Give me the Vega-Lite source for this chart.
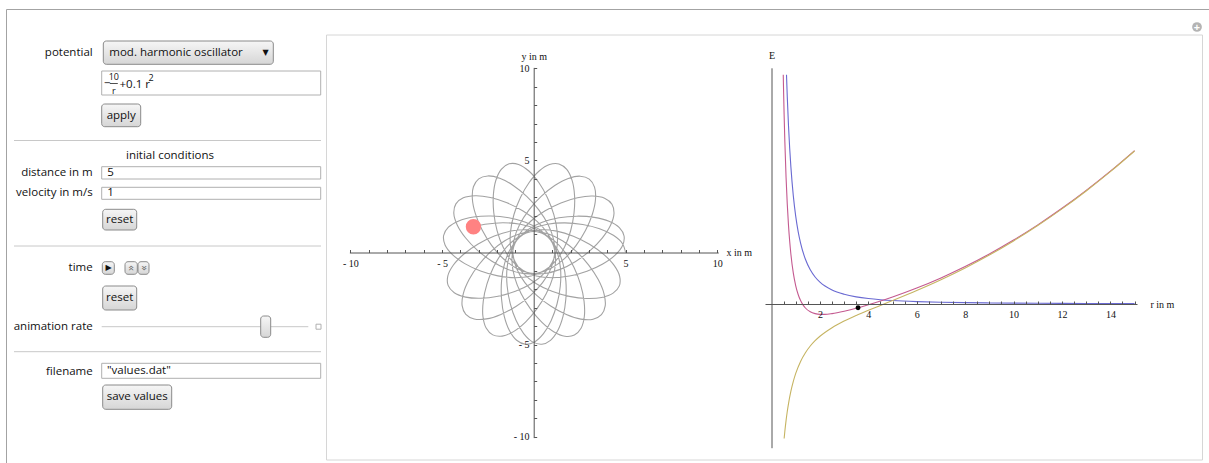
{
  "$schema": "https://vega.github.io/schema/vega-lite/v6.json",
  "width": 1209,
  "height": 463,
  "padding": 0,
  "autosize": {"type": "none"},
  "background": "white",
  "config": {"view": {"stroke": null}, "font": "Open Sans"},
  "resolve": {"scale": {"x": "independent", "y": "independent"}, "axis": {"x": "independent", "y": "independent"}},
  "datasets": {
    "frame": [
      {"x1": 6.5, "y1": 9.5, "x2": 1209, "y2": 9.5},
      {"x1": 6.5, "y1": 9.5, "x2": 6.5, "y2": 463}
    ],
    "panel": [{"x1": 326.5, "x2": 1202.5, "y1": 35, "y2": 460}],
    "separators": [
      {"x1": 14, "x2": 321, "y1": 140.5, "y2": 140.5},
      {"x1": 14, "x2": 321, "y1": 246, "y2": 246},
      {"x1": 14, "x2": 321, "y1": 351.7, "y2": 351.7},
      {"x1": 101.7, "x2": 308.3, "y1": 326.7, "y2": 326.7}
    ],
    "fracbar": [{"x1": 109.8, "x2": 117.8, "y1": 83.5, "y2": 83.5}],
    "inputs": [
      {"x1": 101.7, "x2": 320.7, "y1": 71, "y2": 95},
      {"x1": 101.7, "x2": 320.7, "y1": 166.7, "y2": 179},
      {"x1": 101.7, "x2": 320.7, "y1": 187.3, "y2": 199.3},
      {"x1": 101.7, "x2": 320.7, "y1": 363.3, "y2": 378.3},
      {"x1": 316, "x2": 321, "y1": 324.2, "y2": 329.2}
    ],
    "buttons": [
      {"x1": 103.3, "x2": 273.3, "y1": 41, "y2": 64.3},
      {"x1": 101.7, "x2": 140.7, "y1": 104, "y2": 126.7},
      {"x1": 102.7, "x2": 136.7, "y1": 209.3, "y2": 230},
      {"x1": 102.7, "x2": 136.7, "y1": 286, "y2": 310},
      {"x1": 102.7, "x2": 171.7, "y1": 385, "y2": 409.3},
      {"x1": 102.3, "x2": 114.3, "y1": 261.7, "y2": 274.3},
      {"x1": 125, "x2": 137.3, "y1": 261.7, "y2": 274.3},
      {"x1": 138, "x2": 149, "y1": 261.7, "y2": 274.3},
      {"x1": 260.7, "x2": 270.7, "y1": 316, "y2": 337.3}
    ],
    "labelsRight": [
      {"x": 92.7, "y": 53.3, "text": "potential"},
      {"x": 92.7, "y": 172.7, "text": "distance in m"},
      {"x": 92.7, "y": 192.7, "text": "velocity in m/s"},
      {"x": 92.7, "y": 267.7, "text": "time"},
      {"x": 92.7, "y": 326.7, "text": "animation rate"},
      {"x": 92.7, "y": 371.7, "text": "filename"}
    ],
    "labelsLeft": [
      {"x": 109.3, "y": 53, "text": "mod. harmonic oscillator"},
      {"x": 107.3, "y": 173, "text": "5"},
      {"x": 107.3, "y": 193.3, "text": "1"},
      {"x": 107, "y": 371, "text": "\"values.dat\""},
      {"x": 104, "y": 83.5, "text": "−"},
      {"x": 119.5, "y": 84.5, "text": "+0.1 r"}
    ],
    "labelsCenter": [
      {"x": 170, "y": 156, "text": "initial conditions"},
      {"x": 121.2, "y": 115.5, "text": "apply"},
      {"x": 119.7, "y": 219.7, "text": "reset"},
      {"x": 119.7, "y": 298, "text": "reset"},
      {"x": 137.2, "y": 397, "text": "save values"}
    ],
    "formulaSmall": [
      {"x": 113.8, "y": 77, "text": "10"},
      {"x": 113.8, "y": 90.5, "text": "r"},
      {"x": 151, "y": 78, "text": "2"}
    ],
    "glyphs": [
      {"x": 265.7, "y": 52.5, "text": "▼"},
      {"x": 108.6, "y": 268, "text": "▶"}
    ],
    "chevUp": [{"x": 131.2, "y": 268, "text": "«"}],
    "chevDown": [{"x": 143.5, "y": 268, "text": "»"}],
    "orbit": [
      {"t":0,"x":5,"y":0},{"t":1,"x":4.828,"y":0.49},{"t":2,"x":4.335,"y":0.933},{"t":3,"x":3.584,"y":1.287},{"t":4,"x":2.667,"y":1.519},{"t":5,"x":1.687,"y":1.606},{"t":6,"x":0.744,"y":1.532},{"t":7,"x":-0.09,"y":1.281},{"t":8,"x":-0.766,"y":0.841},{"t":9,"x":-1.268,"y":0.208},{"t":10,"x":-1.594,"y":-0.599},{"t":11,"x":-1.756,"y":-1.531},{"t":12,"x":-1.759,"y":-2.515},{"t":13,"x":-1.613,"y":-3.449},{"t":14,"x":-1.33,"y":-4.23},{"t":15,"x":-0.935,"y":-4.762},
      {"t":16,"x":-0.463,"y":-4.979},{"t":17,"x":0.041,"y":-4.853},{"t":18,"x":0.527,"y":-4.403},{"t":19,"x":0.949,"y":-3.688},{"t":20,"x":1.265,"y":-2.796},{"t":21,"x":1.443,"y":-1.829},{"t":22,"x":1.457,"y":-0.882},{"t":23,"x":1.284,"y":-0.029},{"t":24,"x":0.908,"y":0.685},{"t":25,"x":0.324,"y":1.243},{"t":26,"x":-0.448,"y":1.643},{"t":27,"x":-1.362,"y":1.89},{"t":28,"x":-2.341,"y":1.984},{"t":29,"x":-3.285,"y":1.925},{"t":30,"x":-4.089,"y":1.716},{"t":31,"x":-4.655,"y":1.372},
      {"t":32,"x":-4.914,"y":0.922},{"t":33,"x":-4.836,"y":0.408},{"t":34,"x":-4.433,"y":-0.118},{"t":35,"x":-3.76,"y":-0.604},{"t":36,"x":-2.901,"y":-1.001},{"t":37,"x":-1.955,"y":-1.268},{"t":38,"x":-1.013,"y":-1.369},{"t":39,"x":-0.148,"y":-1.276},{"t":40,"x":0.598,"y":-0.968},{"t":41,"x":1.207,"y":-0.438},{"t":42,"x":1.677,"y":0.294},{"t":43,"x":2.008,"y":1.182},{"t":44,"x":2.192,"y":2.147},{"t":45,"x":2.221,"y":3.093},{"t":46,"x":2.087,"y":3.912},{"t":47,"x":1.797,"y":4.508},
      {"t":48,"x":1.373,"y":4.808},{"t":49,"x":0.854,"y":4.777},{"t":50,"x":0.293,"y":4.425},{"t":51,"x":-0.253,"y":3.799},{"t":52,"x":-0.728,"y":2.981},{"t":53,"x":-1.081,"y":2.064},{"t":54,"x":-1.269,"y":1.136},{"t":55,"x":-1.257,"y":0.266},{"t":56,"x":-1.019,"y":-0.506},{"t":57,"x":-0.548,"y":-1.162},{"t":58,"x":0.138,"y":-1.697},{"t":59,"x":0.991,"y":-2.109},{"t":60,"x":1.935,"y":-2.382},{"t":61,"x":2.874,"y":-2.498},{"t":62,"x":3.702,"y":-2.441},{"t":63,"x":4.322,"y":-2.207},
      {"t":64,"x":4.66,"y":-1.812},{"t":65,"x":4.678,"y":-1.293},{"t":66,"x":4.378,"y":-0.702},{"t":67,"x":3.806,"y":-0.1},{"t":68,"x":3.036,"y":0.449},{"t":69,"x":2.155,"y":0.886},{"t":70,"x":1.248,"y":1.159},{"t":71,"x":0.381,"y":1.227},{"t":72,"x":-0.409,"y":1.061},{"t":73,"x":-1.106,"y":0.653},{"t":74,"x":-1.703,"y":0.02},{"t":75,"x":-2.191,"y":-0.791},{"t":76,"x":-2.551,"y":-1.706},{"t":77,"x":-2.753,"y":-2.63},{"t":78,"x":-2.773,"y":-3.46},{"t":79,"x":-2.597,"y":-4.1},
      {"t":80,"x":-2.236,"y":-4.472},{"t":81,"x":-1.721,"y":-4.538},{"t":82,"x":-1.104,"y":-4.295},{"t":83,"x":-0.452,"y":-3.781},{"t":84,"x":0.166,"y":-3.064},{"t":85,"x":0.682,"y":-2.228},{"t":86,"x":1.038,"y":-1.35},{"t":87,"x":1.186,"y":-0.493},{"t":88,"x":1.095,"y":0.309},{"t":89,"x":0.753,"y":1.041},{"t":90,"x":0.178,"y":1.694},{"t":91,"x":-0.585,"y":2.255},{"t":92,"x":-1.463,"y":2.698},{"t":93,"x":-2.364,"y":2.985},{"t":94,"x":-3.189,"y":3.081},{"t":95,"x":-3.842,"y":2.966},
      {"t":96,"x":-4.246,"y":2.64},{"t":97,"x":-4.359,"y":2.133},{"t":98,"x":-4.174,"y":1.497},{"t":99,"x":-3.723,"y":0.8},{"t":100,"x":-3.066,"y":0.118},{"t":101,"x":-2.281,"y":-0.473},{"t":102,"x":-1.441,"y":-0.909},{"t":103,"x":-0.6,"y":-1.135},{"t":104,"x":0.207,"y":-1.119},{"t":105,"x":0.967,"y":-0.846},{"t":106,"x":1.67,"y":-0.334},{"t":107,"x":2.299,"y":0.374},{"t":108,"x":2.822,"y":1.207},{"t":109,"x":3.191,"y":2.078},{"t":110,"x":3.363,"y":2.89},{"t":111,"x":3.309,"y":3.55},
      {"t":112,"x":3.022,"y":3.984},{"t":113,"x":2.528,"y":4.143},{"t":114,"x":1.877,"y":4.018},{"t":115,"x":1.141,"y":3.633},{"t":116,"x":0.402,"y":3.042},{"t":117,"x":-0.26,"y":2.315},{"t":118,"x":-0.771,"y":1.518},{"t":119,"x":-1.075,"y":0.703},{"t":120,"x":-1.133,"y":-0.102},{"t":121,"x":-0.932,"y":-0.884},{"t":122,"x":-0.487,"y":-1.632},{"t":123,"x":0.159,"y":-2.324},{"t":124,"x":0.94,"y":-2.921},{"t":125,"x":1.773,"y":-3.37},{"t":126,"x":2.566,"y":-3.616},{"t":127,"x":3.229,"y":-3.623},
      {"t":128,"x":3.687,"y":-3.378},{"t":129,"x":3.891,"y":-2.9},{"t":130,"x":3.827,"y":-2.241},{"t":131,"x":3.512,"y":-1.472},{"t":132,"x":2.992,"y":-0.682},{"t":133,"x":2.329,"y":0.044},{"t":134,"x":1.583,"y":0.627},{"t":135,"x":0.8,"y":1.005},{"t":136,"x":0.003,"y":1.137},{"t":137,"x":-0.794,"y":1.009},{"t":138,"x":-1.58,"y":0.636},{"t":139,"x":-2.329,"y":0.057},{"t":140,"x":-2.996,"y":-0.666},{"t":141,"x":-3.519,"y":-1.454},{"t":142,"x":-3.838,"y":-2.22},{"t":143,"x":-3.906,"y":-2.88},
      {"t":144,"x":-3.705,"y":-3.358},{"t":145,"x":-3.248,"y":-3.606},{"t":146,"x":-2.585,"y":-3.603},{"t":147,"x":-1.791,"y":-3.36},{"t":148,"x":-0.956,"y":-2.916},{"t":149,"x":-0.171,"y":-2.323},{"t":150,"x":0.478,"y":-1.635},{"t":151,"x":0.927,"y":-0.889},{"t":152,"x":1.132,"y":-0.108},{"t":153,"x":1.079,"y":0.697},{"t":154,"x":0.779,"y":1.514},{"t":155,"x":0.272,"y":2.314},{"t":156,"x":-0.386,"y":3.044},{"t":157,"x":-1.122,"y":3.639},{"t":158,"x":-1.856,"y":4.028},{"t":159,"x":-2.506,"y":4.156},
      {"t":160,"x":-3.001,"y":3.999},{"t":161,"x":-3.29,"y":3.568},{"t":162,"x":-3.348,"y":2.908},{"t":163,"x":-3.18,"y":2.095},{"t":164,"x":-2.815,"y":1.222},{"t":165,"x":-2.298,"y":0.386},{"t":166,"x":-1.672,"y":-0.325},{"t":167,"x":-0.971,"y":-0.841},{"t":168,"x":-0.213,"y":-1.117},{"t":169,"x":0.595,"y":-1.139},{"t":170,"x":1.436,"y":-0.916},{"t":171,"x":2.279,"y":-0.485},{"t":172,"x":3.067,"y":0.102},{"t":173,"x":3.727,"y":0.78},{"t":174,"x":4.182,"y":1.475},{"t":175,"x":4.37,"y":2.11},
      {"t":176,"x":4.26,"y":2.618},{"t":177,"x":3.857,"y":2.945},{"t":178,"x":3.205,"y":3.064},{"t":179,"x":2.38,"y":2.972},{"t":180,"x":1.477,"y":2.69},{"t":181,"x":0.597,"y":2.252},{"t":182,"x":-0.169,"y":1.695},{"t":183,"x":-0.747,"y":1.045},{"t":184,"x":-1.093,"y":0.315},{"t":185,"x":-1.189,"y":-0.486},{"t":186,"x":-1.045,"y":-1.345},{"t":187,"x":-0.694,"y":-2.224},{"t":188,"x":-0.182,"y":-3.063},{"t":189,"x":0.432,"y":-3.783},{"t":190,"x":1.081,"y":-4.301},{"t":191,"x":1.696,"y":-4.547},
      {"t":192,"x":2.212,"y":-4.484},{"t":193,"x":2.575,"y":-4.113},{"t":194,"x":2.754,"y":-3.475},{"t":195,"x":2.739,"y":-2.645},{"t":196,"x":2.542,"y":-1.72},{"t":197,"x":2.187,"y":-0.803},{"t":198,"x":1.703,"y":0.011},{"t":199,"x":1.11,"y":0.647},{"t":200,"x":0.415,"y":1.059},{"t":201,"x":-0.374,"y":1.229},{"t":202,"x":-1.242,"y":1.165},{"t":203,"x":-2.15,"y":0.897},{"t":204,"x":-3.033,"y":0.465},{"t":205,"x":-3.807,"y":-0.08},{"t":206,"x":-4.382,"y":-0.678},{"t":207,"x":-4.684,"y":-1.268},
      {"t":208,"x":-4.67,"y":-1.787},{"t":209,"x":-4.334,"y":-2.184},{"t":210,"x":-3.715,"y":-2.421},{"t":211,"x":-2.887,"y":-2.483},{"t":212,"x":-1.948,"y":-2.372},{"t":213,"x":-1.002,"y":-2.103},{"t":214,"x":-0.147,"y":-1.697},{"t":215,"x":0.542,"y":-1.165},{"t":216,"x":1.016,"y":-0.511},{"t":217,"x":1.258,"y":0.259},{"t":218,"x":1.275,"y":1.129},{"t":219,"x":1.092,"y":2.058},{"t":220,"x":0.744,"y":2.977},{"t":221,"x":0.273,"y":3.798},{"t":222,"x":-0.27,"y":4.426},{"t":223,"x":-0.829,"y":4.782},
      {"t":224,"x":-1.347,"y":4.815},{"t":225,"x":-1.773,"y":4.518},{"t":226,"x":-2.066,"y":3.923},{"t":227,"x":-2.205,"y":3.105},{"t":228,"x":-2.181,"y":2.159},{"t":229,"x":-2.002,"y":1.192},{"t":230,"x":-1.676,"y":0.303},{"t":231,"x":-1.21,"y":-0.432},{"t":232,"x":-0.603,"y":-0.964},{"t":233,"x":0.141,"y":-1.277},{"t":234,"x":1.006,"y":-1.374},{"t":235,"x":1.948,"y":-1.278},{"t":236,"x":2.896,"y":-1.016},{"t":237,"x":3.756,"y":-0.624},{"t":238,"x":4.432,"y":-0.141},{"t":239,"x":4.838,"y":0.383},
      {"t":240,"x":4.919,"y":0.896},{"t":241,"x":4.662,"y":1.347},{"t":242,"x":4.098,"y":1.694},{"t":243,"x":3.295,"y":1.908},{"t":244,"x":2.351,"y":1.972},{"t":245,"x":1.372,"y":1.883},{"t":246,"x":0.457,"y":1.641},{"t":247,"x":-0.318,"y":1.244},{"t":248,"x":-0.904,"y":0.69},{"t":249,"x":-1.284,"y":-0.023},{"t":250,"x":-1.461,"y":-0.874},{"t":251,"x":-1.453,"y":-1.821},{"t":252,"x":-1.28,"y":-2.789},{"t":253,"x":-0.969,"y":-3.683},{"t":254,"x":-0.551,"y":-4.4},{"t":255,"x":-0.067,"y":-4.853},
      {"t":256,"x":0.437,"y":-4.981},{"t":257,"x":0.91,"y":-4.767},{"t":258,"x":1.308,"y":-4.237},{"t":259,"x":1.595,"y":-3.458},{"t":260,"x":1.746,"y":-2.524},{"t":261,"x":1.747,"y":-1.541},{"t":262,"x":1.591,"y":-0.607},{"t":263,"x":1.269,"y":0.201},{"t":264,"x":0.771,"y":0.837},{"t":265,"x":0.096,"y":1.281},{"t":266,"x":-0.735,"y":1.536},{"t":267,"x":-1.679,"y":1.615},{"t":268,"x":-2.659,"y":1.533},{"t":269,"x":-3.29,"y":1.4}
    ],
    "energy": [
      {"curve":"L","r":0.6183,"E":32.7},{"curve":"L","r":0.65,"E":29.59},{"curve":"L","r":0.7,"E":25.51},{"curve":"L","r":0.75,"E":22.22},{"curve":"L","r":0.8,"E":19.53},{"curve":"L","r":0.9,"E":15.43},{"curve":"L","r":1.0,"E":12.5},{"curve":"L","r":1.1,"E":10.33},{"curve":"L","r":1.2,"E":8.681},{"curve":"L","r":1.4,"E":6.378},{"curve":"L","r":1.6,"E":4.883},{"curve":"L","r":1.8,"E":3.858},{"curve":"L","r":2.0,"E":3.125},{"curve":"L","r":2.5,"E":2.0},{"curve":"L","r":3,"E":1.389},{"curve":"L","r":3.5,"E":1.02},{"curve":"L","r":4,"E":0.781},{"curve":"L","r":4.5,"E":0.617},{"curve":"L","r":5,"E":0.5},{"curve":"L","r":6,"E":0.347},{"curve":"L","r":7,"E":0.255},{"curve":"L","r":8,"E":0.195},{"curve":"L","r":9,"E":0.154},{"curve":"L","r":10,"E":0.125},{"curve":"L","r":11,"E":0.103},{"curve":"L","r":12,"E":0.087},{"curve":"L","r":13,"E":0.074},{"curve":"L","r":14,"E":0.064},{"curve":"L","r":15,"E":0.056},
      {"curve":"Veff","r":0.4841,"E":32.7},{"curve":"Veff","r":0.5,"E":30.03},{"curve":"Veff","r":0.52,"E":27.02},{"curve":"Veff","r":0.55,"E":23.17},{"curve":"Veff","r":0.6,"E":18.09},{"curve":"Veff","r":0.65,"E":14.25},{"curve":"Veff","r":0.7,"E":11.27},{"curve":"Veff","r":0.75,"E":8.945},{"curve":"Veff","r":0.8,"E":7.095},{"curve":"Veff","r":0.9,"E":4.4},{"curve":"Veff","r":1.0,"E":2.6},{"curve":"Veff","r":1.1,"E":1.36},{"curve":"Veff","r":1.2,"E":0.492},{"curve":"Veff","r":1.3,"E":-0.127},{"curve":"Veff","r":1.4,"E":-0.569},{"curve":"Veff","r":1.6,"E":-1.111},{"curve":"Veff","r":1.8,"E":-1.374},{"curve":"Veff","r":2.0,"E":-1.475},{"curve":"Veff","r":2.2,"E":-1.478},{"curve":"Veff","r":2.5,"E":-1.375},{"curve":"Veff","r":3,"E":-1.044},{"curve":"Veff","r":3.5,"E":-0.612},{"curve":"Veff","r":4,"E":-0.119},{"curve":"Veff","r":4.5,"E":0.42},{"curve":"Veff","r":5,"E":1.0},{"curve":"Veff","r":6,"E":2.28},{"curve":"Veff","r":7,"E":3.726},{"curve":"Veff","r":8,"E":5.345},{"curve":"Veff","r":9,"E":7.143},{"curve":"Veff","r":10,"E":9.125},{"curve":"Veff","r":11,"E":11.294},{"curve":"Veff","r":12,"E":13.654},{"curve":"Veff","r":13,"E":16.205},{"curve":"Veff","r":14,"E":18.95},{"curve":"Veff","r":15,"E":21.889},
      {"curve":"V","r":0.5203,"E":-19.19},{"curve":"V","r":0.55,"E":-18.15},{"curve":"V","r":0.6,"E":-16.63},{"curve":"V","r":0.65,"E":-15.34},{"curve":"V","r":0.7,"E":-14.24},{"curve":"V","r":0.8,"E":-12.44},{"curve":"V","r":0.9,"E":-11.03},{"curve":"V","r":1.0,"E":-9.9},{"curve":"V","r":1.2,"E":-8.19},{"curve":"V","r":1.4,"E":-6.95},{"curve":"V","r":1.6,"E":-5.99},{"curve":"V","r":1.8,"E":-5.23},{"curve":"V","r":2.0,"E":-4.6},{"curve":"V","r":2.5,"E":-3.375},{"curve":"V","r":3,"E":-2.433},{"curve":"V","r":3.5,"E":-1.632},{"curve":"V","r":4,"E":-0.9},{"curve":"V","r":4.5,"E":-0.197},{"curve":"V","r":5,"E":0.5},{"curve":"V","r":6,"E":1.933},{"curve":"V","r":7,"E":3.471},{"curve":"V","r":8,"E":5.15},{"curve":"V","r":9,"E":6.989},{"curve":"V","r":10,"E":9},{"curve":"V","r":11,"E":11.191},{"curve":"V","r":12,"E":13.567},{"curve":"V","r":13,"E":16.131},{"curve":"V","r":14,"E":18.886},{"curve":"V","r":15,"E":21.833}
    ]
  },
  "layer": [
    {
      "layer": [
        {
          "data": {"name": "panel"},
          "mark": {"type": "rect", "fill": "white", "stroke": "#d6d6d6", "strokeWidth": 1},
          "encoding": {
            "x": {"field": "x1", "type": "quantitative", "scale": {"domain": [0, 1209], "range": [0, 1209], "nice": false, "zero": false}, "axis": null},
            "x2": {"field": "x2"},
            "y": {"field": "y1", "type": "quantitative", "scale": {"domain": [0, 463], "range": [0, 463], "nice": false, "zero": false}, "axis": null},
            "y2": {"field": "y2"}
          }
        },
        {
          "data": {"name": "frame"},
          "mark": {"type": "rule", "stroke": "#a3a3a3", "strokeWidth": 1},
          "encoding": {
            "x": {"field": "x1", "type": "quantitative"},
            "x2": {"field": "x2"},
            "y": {"field": "y1", "type": "quantitative"},
            "y2": {"field": "y2"}
          }
        },
        {
          "data": {"name": "separators"},
          "mark": {"type": "rule", "stroke": "#c8c8c8", "strokeWidth": 1},
          "encoding": {
            "x": {"field": "x1", "type": "quantitative"},
            "x2": {"field": "x2"},
            "y": {"field": "y1", "type": "quantitative"},
            "y2": {"field": "y2"}
          }
        },
        {
          "data": {"name": "inputs"},
          "mark": {"type": "rect", "fill": "white", "stroke": "#b0b0b0", "strokeWidth": 1},
          "encoding": {
            "x": {"field": "x1", "type": "quantitative"},
            "x2": {"field": "x2"},
            "y": {"field": "y1", "type": "quantitative"},
            "y2": {"field": "y2"}
          }
        },
        {
          "data": {"name": "fracbar"},
          "mark": {"type": "rule", "stroke": "#222", "strokeWidth": 0.8},
          "encoding": {
            "x": {"field": "x1", "type": "quantitative"},
            "x2": {"field": "x2"},
            "y": {"field": "y1", "type": "quantitative"},
            "y2": {"field": "y2"}
          }
        },
        {
          "data": {"name": "buttons"},
          "mark": {
            "type": "rect",
            "cornerRadius": 3,
            "stroke": "#8a8a8a",
            "strokeWidth": 1,
            "fill": {"gradient": "linear", "x1": 0, "y1": 0, "x2": 0, "y2": 1, "stops": [{"offset": 0, "color": "#f6f6f6"}, {"offset": 1, "color": "#d6d6d6"}]}
          },
          "encoding": {
            "x": {"field": "x1", "type": "quantitative"},
            "x2": {"field": "x2"},
            "y": {"field": "y1", "type": "quantitative"},
            "y2": {"field": "y2"}
          }
        },
        {
          "data": {"name": "labelsRight"},
          "mark": {"type": "text", "align": "right", "baseline": "middle", "font": "Open Sans", "fontSize": 11.5, "color": "#111"},
          "encoding": {
            "x": {"field": "x", "type": "quantitative"},
            "y": {"field": "y", "type": "quantitative"},
            "text": {"field": "text"}
          }
        },
        {
          "data": {"name": "labelsLeft"},
          "mark": {"type": "text", "align": "left", "baseline": "middle", "font": "Open Sans", "fontSize": 11.5, "color": "#111"},
          "encoding": {
            "x": {"field": "x", "type": "quantitative"},
            "y": {"field": "y", "type": "quantitative"},
            "text": {"field": "text"}
          }
        },
        {
          "data": {"name": "labelsCenter"},
          "mark": {"type": "text", "align": "center", "baseline": "middle", "font": "Open Sans", "fontSize": 11.5, "color": "#111"},
          "encoding": {
            "x": {"field": "x", "type": "quantitative"},
            "y": {"field": "y", "type": "quantitative"},
            "text": {"field": "text"}
          }
        },
        {
          "data": {"name": "formulaSmall"},
          "mark": {"type": "text", "align": "center", "baseline": "middle", "font": "Open Sans", "fontSize": 9, "color": "#111"},
          "encoding": {
            "x": {"field": "x", "type": "quantitative"},
            "y": {"field": "y", "type": "quantitative"},
            "text": {"field": "text"}
          }
        },
        {
          "data": {"name": "glyphs"},
          "mark": {"type": "text", "align": "center", "baseline": "middle", "font": "DejaVu Sans", "fontSize": 8, "color": "#111"},
          "encoding": {
            "x": {"field": "x", "type": "quantitative"},
            "y": {"field": "y", "type": "quantitative"},
            "text": {"field": "text"}
          }
        },
        {
          "data": {"name": "chevUp"},
          "mark": {"type": "text", "align": "center", "baseline": "middle", "font": "DejaVu Sans", "fontSize": 10, "angle": 90, "color": "#666"},
          "encoding": {
            "x": {"field": "x", "type": "quantitative"},
            "y": {"field": "y", "type": "quantitative"},
            "text": {"field": "text"}
          }
        },
        {
          "data": {"name": "chevDown"},
          "mark": {"type": "text", "align": "center", "baseline": "middle", "font": "DejaVu Sans", "fontSize": 10, "angle": 90, "color": "#666"},
          "encoding": {
            "x": {"field": "x", "type": "quantitative"},
            "y": {"field": "y", "type": "quantitative"},
            "text": {"field": "text"}
          }
        },
        {
          "data": {"values": [{"x": 1197, "y": 27}]},
          "mark": {"type": "circle", "size": 95, "color": "#b4b4b4", "opacity": 1},
          "encoding": {
            "x": {"field": "x", "type": "quantitative"},
            "y": {"field": "y", "type": "quantitative"}
          }
        },
        {
          "data": {"values": [{"x": 1197, "y": 27.5, "text": "+"}]},
          "mark": {"type": "text", "align": "center", "baseline": "middle", "fontSize": 11, "fontWeight": "bold", "color": "white"},
          "encoding": {
            "x": {"field": "x", "type": "quantitative"},
            "y": {"field": "y", "type": "quantitative"},
            "text": {"field": "text"}
          }
        }
      ]
    },
    {
      "resolve": {"axis": {"y": "independent"}},
      "layer": [
        {
          "data": {"name": "orbit"},
          "mark": {"type": "line", "interpolate": "catmull-rom", "stroke": "#a2a2a2", "strokeWidth": 1.1},
          "encoding": {
            "x": {
              "field": "x", "type": "quantitative",
              "scale": {"domain": [-10.05, 10.05], "range": [349.38, 718.22], "nice": false, "zero": false},
              "axis": {
                "orient": "bottom", "offset": -210.5, "grid": false, "zindex": 2,
                "values": [-10, -9, -8, -7, -6, -5, -4, -3, -2, -1, 1, 2, 3, 4, 5, 6, 7, 8, 9, 10],
                "labelExpr": "datum.value % 5 == 0 ? (datum.value < 0 ? '- ' + abs(datum.value) : '' + datum.value) : ''",
                "tickSize": -3, "labelPadding": 8.5, "labelFlush": false, "labelOverlap": false,
                "domainColor": "#555555", "tickColor": "#555555", "domainWidth": 1, "tickWidth": 1,
                "labelFont": "Liberation Serif", "labelFontSize": 10, "labelColor": "#111",
                "title": "x in m", "titleFont": "Liberation Serif", "titleFontSize": 10, "titleFontWeight": "normal", "titleColor": "#111",
                "titleX": 726, "titleY": 0, "titleAlign": "left", "titleBaseline": "middle", "titleAngle": 0
              }
            },
            "y": {
              "field": "y", "type": "quantitative",
              "scale": {"domain": [-10.05, 10.05], "range": [437.62, 67.38], "nice": false, "zero": false},
              "axis": {
                "orient": "left", "offset": -533.7, "grid": false, "zindex": 2,
                "values": [-10, -9, -8, -7, -6, -5, -4, -3, -2, -1, 1, 2, 3, 4, 5, 6, 7, 8, 9, 10],
                "labels": false,
                "tickSize": -3,
                "domainColor": "#555555", "tickColor": "#555555", "domainWidth": 1, "tickWidth": 1,
                "title": "y in m", "titleFont": "Liberation Serif", "titleFontSize": 10, "titleFontWeight": "normal", "titleColor": "#111",
                "titleX": 0, "titleY": 56, "titleAlign": "center", "titleBaseline": "middle", "titleAngle": 0
              }
            },
            "order": {"field": "t", "type": "quantitative"}
          }
        },
        {
          "data": {"values": [{"x": -3.29, "y": 1.4}]},
          "mark": {"type": "circle", "size": 235, "color": "#ff8282", "opacity": 1},
          "encoding": {
            "x": {"field": "x", "type": "quantitative"},
            "y": {
              "field": "y", "type": "quantitative",
              "axis": {
                "orient": "left", "offset": -533.7, "grid": false, "zindex": 2,
                "values": [-10, -5, 5, 10],
                "labelExpr": "datum.value < 0 ? '- ' + abs(datum.value) : '' + datum.value",
                "ticks": false, "domain": false, "labelPadding": 4.7, "labelFlush": false, "labelOverlap": false,
                "labelFont": "Liberation Serif", "labelFontSize": 10, "labelColor": "#111",
                "title": null
              }
            }
          }
        }
      ]
    },
    {
      "layer": [
        {
          "data": {"name": "energy"},
          "mark": {"type": "line", "interpolate": "monotone", "strokeWidth": 1.1},
          "encoding": {
            "x": {
              "field": "r", "type": "quantitative",
              "scale": {"domain": [-0.27, 15.1], "range": [765, 1137], "nice": false, "zero": false},
              "axis": {
                "orient": "bottom", "offset": -159, "grid": false, "zindex": 2,
                "values": [0.5, 1, 1.5, 2, 2.5, 3, 3.5, 4, 4.5, 5, 5.5, 6, 6.5, 7, 7.5, 8, 8.5, 9, 9.5, 10, 10.5, 11, 11.5, 12, 12.5, 13, 13.5, 14, 14.5, 15],
                "labelExpr": "datum.value % 2 == 0 ? '' + datum.value : ''",
                "tickSize": -3, "labelPadding": 8, "labelFlush": false, "labelOverlap": false,
                "domainColor": "#555555", "tickColor": "#555555", "domainWidth": 1, "tickWidth": 1,
                "labelFont": "Liberation Serif", "labelFontSize": 10, "labelColor": "#111",
                "title": "r in m", "titleFont": "Liberation Serif", "titleFontSize": 10, "titleFontWeight": "normal", "titleColor": "#111",
                "titleX": 1150, "titleY": 0, "titleAlign": "left", "titleBaseline": "middle", "titleAngle": 0
              }
            },
            "y": {
              "field": "E", "type": "quantitative",
              "scale": {"domain": [-20.5, 33.7], "range": [447.7, 67.8], "nice": false, "zero": false},
              "axis": {
                "orient": "left", "offset": -771.5, "grid": false, "ticks": false, "labels": false, "zindex": 2,
                "domainColor": "#555555", "domainWidth": 1,
                "title": "E", "titleFont": "Liberation Serif", "titleFontSize": 10, "titleFontWeight": "normal", "titleColor": "#111",
                "titleX": 0, "titleY": 55, "titleAlign": "center", "titleBaseline": "middle", "titleAngle": 0
              }
            },
            "color": {
              "field": "curve", "type": "nominal",
              "scale": {"domain": ["L", "Veff", "V"], "range": ["#6a6ad2", "#c45a90", "#c6b462"]},
              "legend": null
            }
          }
        },
        {
          "data": {"values": [{"r": 3.575, "E": -0.541}]},
          "mark": {"type": "circle", "size": 24, "color": "black", "opacity": 1},
          "encoding": {
            "x": {"field": "r", "type": "quantitative"},
            "y": {"field": "E", "type": "quantitative"}
          }
        }
      ]
    }
  ]
}
